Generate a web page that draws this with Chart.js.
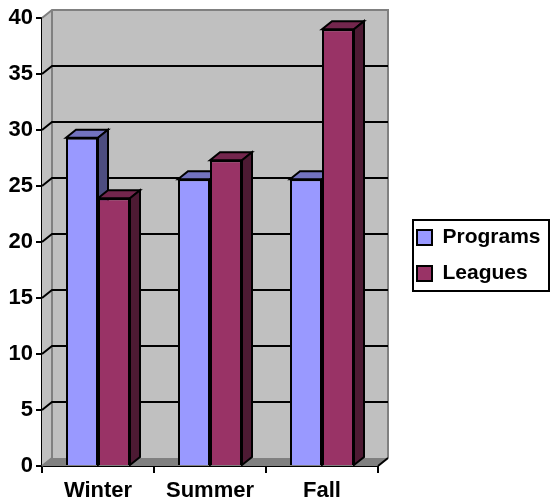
<!DOCTYPE html>
<html>
<head>
<meta charset="utf-8">
<style>
  html, body { margin: 0; padding: 0; background: #fff; }
  canvas { display: block; }
</style>
<script src="https://cdn.jsdelivr.net/npm/chart.js@4"></script>
</head>
<body>
<canvas id="chart" width="550" height="501"></canvas>
<script>
const seasons = ['Winter', 'Summer', 'Fall'];
const programs = [29.3, 25.6, 25.6];
const leagues = [23.9, 27.3, 39];

const DX = 10, DY = -8;
const ink = '#000';

function poly(ctx, pts, fill, stroke, width) {
    ctx.beginPath();
    pts.forEach((p, i) => i ? ctx.lineTo(p[0], p[1]) : ctx.moveTo(p[0], p[1]));
    ctx.closePath();
    if (fill) { ctx.fillStyle = fill; ctx.fill(); }
    if (stroke) { ctx.strokeStyle = stroke; ctx.lineWidth = width || 2; ctx.lineJoin = 'miter'; ctx.stroke(); }
}

// back wall, side wall, floor, gridlines pushed back by the depth offset,
// then top and side faces of the bars (fronts are the real bars, drawn after this)
const walls = {
    id: 'walls',
    beforeDatasetsDraw(chart) {
        const { ctx, chartArea: a, scales: { y } } = chart;
        ctx.save();
        poly(ctx, [[a.left, a.top], [a.left + DX, a.top + DY], [a.left + DX, a.bottom + DY], [a.left, a.bottom]], '#c0c0c0');
        poly(ctx, [[a.left + DX, a.top + DY], [a.right + DX, a.top + DY], [a.right + DX, a.bottom + DY], [a.left + DX, a.bottom + DY]], '#c0c0c0');
        poly(ctx, [[a.left, a.bottom], [a.left + DX, a.bottom + DY], [a.right + DX, a.bottom + DY], [a.right, a.bottom]], '#808080');

        ctx.strokeStyle = '#808080';
        ctx.lineWidth = 2;
        ctx.beginPath();
        ctx.moveTo(a.left, a.top);
        ctx.lineTo(a.left + DX, a.top + DY);
        ctx.lineTo(a.right + DX, a.top + DY);
        ctx.lineTo(a.right + DX, a.bottom + DY);
        ctx.moveTo(a.left + DX, a.top + DY);
        ctx.lineTo(a.left + DX, a.bottom + DY);
        ctx.lineTo(a.left, a.bottom);
        ctx.stroke();

        ctx.strokeStyle = ink;
        y.ticks.forEach(t => {
            if (t.value === y.min || t.value === y.max) return;
            const py = y.getPixelForValue(t.value);
            ctx.beginPath();
            ctx.moveTo(a.left, py);
            ctx.lineTo(a.left + DX, py + DY);
            ctx.lineTo(a.right + DX, py + DY);
            ctx.stroke();
        });
        ctx.beginPath();
        ctx.moveTo(a.right, a.bottom);
        ctx.lineTo(a.right + DX, a.bottom + DY);
        ctx.stroke();

        chart.data.datasets.forEach((ds, i) => {
            chart.getDatasetMeta(i).data.forEach(bar => {
                const l = bar.x - bar.width / 2, r = bar.x + bar.width / 2;
                poly(ctx, [[l, bar.y], [l + DX, bar.y + DY], [r + DX, bar.y + DY], [r, bar.y]], ds.topColor, ink, 2);
                poly(ctx, [[r, bar.y], [r + DX, bar.y + DY], [r + DX, bar.base + DY], [r, bar.base]], ds.sideColor, ink, 2);
            });
        });
        ctx.restore();
    },
    afterDraw(chart) {
        const boxes = chart.legend.legendHitBoxes;
        const ctx = chart.ctx;
        const last = boxes[boxes.length - 1];
        ctx.save();
        ctx.strokeStyle = ink;
        ctx.lineWidth = 2;
        ctx.strokeRect(413, boxes[0].top - 7, 136, last.top + last.height - boxes[0].top + 14);
        ctx.restore();
    }
};

const font = { family: '"Liberation Sans", Arial, sans-serif', weight: 'bold', size: 22 };
const legendFont = { family: '"Liberation Sans", Arial, sans-serif', weight: 'bold', size: 21 };

new Chart(document.getElementById('chart'), {
    type: 'bar',
    data: {
        labels: seasons,
        datasets: [
            { label: 'Programs', data: programs, backgroundColor: '#9999ff', topColor: '#7373bf', sideColor: '#4d4d80', borderColor: ink, borderWidth: 2 },
            { label: 'Leagues', data: leagues, backgroundColor: '#993366', topColor: '#73264d', sideColor: '#4d1a33', borderColor: ink, borderWidth: 2 }
        ]
    },
    options: {
        responsive: false,
        animation: false,
        devicePixelRatio: 1,
        categoryPercentage: 64 / 112,
        barPercentage: 1,
        layout: { padding: { top: 10 } },
        scales: {
            x: {
                grid: { drawOnChartArea: false, color: ink, lineWidth: 2, tickLength: 7 },
                border: { color: ink, width: 2 },
                ticks: { color: ink, font, padding: 5, maxRotation: 0 },
                afterFit: s => { s.height = 35; }
            },
            topGap: {
                type: 'category',
                position: 'top',
                grid: { display: false },
                border: { display: false },
                ticks: { display: false },
                afterFit: s => { s.height = 8; }
            },
            y: {
                min: 0,
                max: 40,
                ticks: { stepSize: 5, color: ink, font, padding: 3 },
                grid: { drawOnChartArea: false, color: ink, lineWidth: 2, tickLength: 6 },
                border: { color: ink, width: 2 },
                afterFit: s => { s.width = 42; }
            },
            rightGap: {
                position: 'right',
                grid: { display: false },
                border: { display: false },
                ticks: { display: false },
                afterFit: s => { s.width = 24; }
            }
        },
        plugins: {
            tooltip: { enabled: false },
            legend: {
                position: 'right',
                maxWidth: 148,
                labels: { color: ink, font: legendFont, boxWidth: 15, boxHeight: 15, padding: 15 }
            }
        }
    },
    plugins: [walls]
});
</script>
</body>
</html>
